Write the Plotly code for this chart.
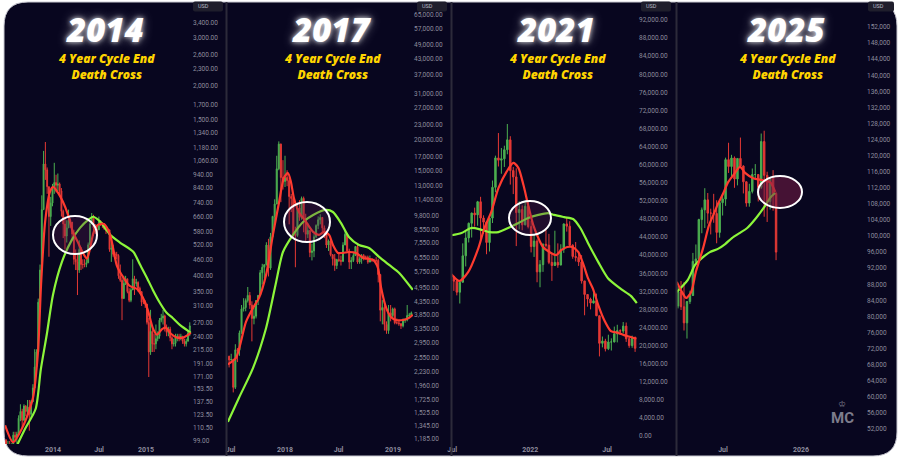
import plotly.graph_objects as go
import pandas as pd

W, H = 900, 460
BG = '#08061f'
GREEN_C = '#4caf50'
RED_C = '#e53935'
RED_MA = '#ff3b2f'
GREEN_MA = '#8cf53a'
TICK_C = '#8e8d9e'

# ---------------- Panel 1 : 2013-2015 (weekly) ----------------
p1_start = '2013-07-01'
p1_open0 = 100
p1_close = [92, 96, 95, 96, 104, 102, 105, 120, 127, 118, 133, 127, 132, 124, 138, 155, 185, 210,
            320, 420, 700, 1030, 980, 850, 660, 740, 840,
            880, 860, 870, 820, 690, 620, 560, 600, 640, 630, 570, 460, 450, 420, 500, 440, 440,
            440, 447, 520, 620, 660, 600, 590, 590, 630, 620, 620, 595, 590, 590, 500, 505, 480,
            480, 475, 400, 385, 330, 375, 390, 350, 325, 355, 390, 375, 378, 360, 350, 320, 320, 315,
            270, 210, 250, 225, 225, 235, 240, 275, 280, 285, 255, 248, 255, 237, 225, 226, 238,
            240, 237, 240, 230, 225, 230, 247, 262]
p1_high = [100, 99, 99, 97, 107, 107, 107, 123, 135, 130, 135, 134, 140, 140, 140, 160, 215, 215,
           330, 440, 790, 1150, 1240, 1000, 850, 780, 870,
           1040, 940, 950, 880, 840, 700, 660, 640, 700, 650, 620, 590, 500, 480, 540, 510, 460,
           460, 460, 530, 630, 680, 670, 620, 610, 660, 640, 630, 625, 600, 600, 590, 530, 520,
           490, 490, 480, 440, 395, 400, 400, 390, 360, 360, 460, 400, 390, 382, 365, 350, 335, 325,
           300, 280, 300, 260, 245, 265, 250, 280, 290, 300, 288, 265, 260, 260, 240, 235, 245,
           245, 245, 245, 240, 235, 235, 250, 270]
p1_low = [86, 85, 88, 88, 92, 98, 97, 104, 117, 110, 117, 122, 125, 108, 120, 138, 160, 185,
          210, 300, 420, 700, 900, 800, 470, 610, 720,
          800, 810, 820, 780, 660, 550, 500, 530, 600, 600, 540, 440, 420, 340, 410, 420, 425,
          430, 430, 445, 520, 620, 560, 570, 560, 590, 610, 600, 590, 570, 580, 490, 450, 470,
          470, 460, 390, 380, 275, 330, 370, 345, 320, 320, 360, 340, 365, 350, 345, 310, 315, 305,
          265, 170, 205, 210, 210, 215, 230, 235, 270, 265, 250, 240, 240, 230, 215, 220, 220,
          230, 230, 232, 225, 220, 220, 230, 240]
p1_red_dates = ['2013-06-27', '2013-07-28', '2013-09-05', '2013-10-14', '2013-11-03', '2013-11-15',
                '2013-12-01', '2013-12-20', '2014-01-01', '2014-01-21', '2014-02-09', '2014-03-01',
                '2014-03-20', '2014-04-08', '2014-04-28', '2014-05-14', '2014-05-25', '2014-06-10',
                '2014-06-26', '2014-07-20', '2014-08-13', '2014-09-09', '2014-10-03', '2014-10-30',
                '2014-11-27', '2014-12-20', '2015-01-08', '2015-01-28', '2015-02-13', '2015-03-05',
                '2015-03-20', '2015-04-09', '2015-05-03', '2015-05-26', '2015-06-26']
p1_red_vals = [113, 98, 112, 142, 210, 370, 631, 814, 849, 807, 748, 670, 580, 533, 486, 462, 498,
               580, 615, 620, 566, 435, 396, 367, 358, 332, 300, 257, 243, 255, 258, 245, 237, 237, 247]
p1_green_dates = ['2013-08-14', '2013-09-14', '2013-10-25', '2013-11-14', '2013-12-08', '2014-01-01',
                  '2014-02-05', '2014-03-16', '2014-04-17', '2014-05-19', '2014-06-08', '2014-07-06',
                  '2014-08-13', '2014-09-22', '2014-11-12', '2014-12-09', '2015-01-05', '2015-01-28',
                  '2015-02-25', '2015-03-24', '2015-04-16', '2015-05-14', '2015-06-26']
p1_green_vals = [96, 110, 130, 181, 245, 341, 450, 542, 600, 642, 659, 631, 566, 529, 490, 439, 393,
                 355, 318, 292, 280, 264, 247]
p1_yticks = [3400, 3000, 2600, 2300, 2000, 1700, 1500, 1340, 1180, 1060, 940, 840, 740, 660, 580,
             520, 460, 400, 350, 310, 270, 240, 215, 191, 171, 153.5, 137.5, 123.5, 110.5, 99]
p1_xticks = ['2014-01-01', '2014-07-01', '2015-01-01']
p1_xtext = ['2014', 'Jul', '2015']

# ---------------- Panel 2 : 2017-2019 ----------------
p2_start = '2017-06-26'
p2_open0 = 2590
p2_close = [2500, 2510, 1930, 2750, 2740, 3230, 4050, 4100, 4380, 4600, 4200, 3700, 3780, 4380,
            4600, 5700, 6000, 6150, 7400, 5950, 8000, 9700, 10900, 15200, 19200, 14000, 13500,
            14000, 13600, 11700, 11500, 8200, 8100, 10500, 9600, 11500, 9500, 8200, 8500, 6900,
            7000, 8000, 8900, 9400, 9600, 8700, 8250, 7400, 7700, 6750, 6500, 6100, 6450,
            6400, 6350, 7400, 8200, 7000, 6300, 6400, 6700, 7300, 6300, 6500, 6700, 6600,
            6600, 6300, 6500, 6400, 6400, 6400, 5600, 4000, 4100, 3500, 3300, 3900, 3800, 4050,
            3550, 3550, 3520, 3450, 3650, 3650, 3800, 3820, 3900]
p2_high = [2600, 2650, 2530, 2900, 2800, 3300, 4200, 4480, 4470, 4980, 4750, 4350, 4100, 4400,
           4620, 5850, 6200, 6150, 7600, 7850, 8300, 9750, 11400, 17200, 19700, 19300, 16500,
           17200, 15000, 14000, 12000, 11700, 8800, 11000, 11300, 11700, 11700, 9950, 9100, 8500,
           7500, 8200, 9000, 9700, 9900, 9650, 8900, 8400, 7800, 7800, 6800, 6800, 6500,
           6800, 6700, 7600, 8500, 8300, 7150, 6600, 6900, 7300, 7400, 6600, 6800, 6800,
           6700, 6700, 6700, 6500, 6500, 6600, 6500, 5600, 4400, 4200, 3600, 4200, 4200, 4100,
           4100, 3700, 3650, 3550, 3700, 3700, 4200, 3900, 3950]
p2_low = [2330, 2480, 1840, 1900, 2450, 2600, 3200, 3950, 3960, 4300, 4050, 2980, 3500, 3700,
          4200, 4600, 5100, 5400, 6100, 5500, 5850, 7900, 9000, 10900, 15000, 11100, 12500,
          12800, 12900, 9000, 10100, 7900, 6000, 8000, 9300, 9400, 8350, 7700, 7900, 6600,
          6400, 6600, 7900, 8600, 9000, 8300, 7900, 7200, 7000, 6650, 6100, 5800, 5900,
          6300, 6100, 6300, 7400, 6900, 5900, 5900, 6300, 6700, 6200, 6200, 6200, 6400,
          6450, 6200, 6400, 6300, 6300, 6300, 5200, 3600, 3500, 3300, 3200, 3200, 3600, 3700,
          3500, 3500, 3450, 3350, 3400, 3550, 3600, 3700, 3750]
p2_red_dates = ['2017-06-22', '2017-07-19', '2017-08-22', '2017-09-15', '2017-10-05', '2017-10-29',
                '2017-11-21', '2017-12-12', '2017-12-28', '2018-01-11', '2018-01-21', '2018-01-31',
                '2018-02-17', '2018-03-13', '2018-04-06', '2018-04-26', '2018-05-13', '2018-05-30',
                '2018-06-12', '2018-06-29', '2018-07-16', '2018-08-05', '2018-08-29', '2018-09-22',
                '2018-10-26', '2018-11-11', '2018-11-22', '2018-12-09', '2018-12-25', '2019-01-11',
                '2019-02-04', '2019-02-24', '2019-03-09']
p2_red_vals = [2400, 2548, 3580, 4089, 4492, 5586, 8145, 11114, 13950, 14620, 13430, 11540, 10110,
               9200, 8378, 8145, 8378, 8145, 7410, 6870, 6870, 6930, 6870, 6552, 6430, 5963, 4934,
               4089, 3753, 3646, 3646, 3720, 3830]
p2_green_dates = ['2017-06-22', '2017-07-29', '2017-09-15', '2017-10-29', '2017-12-02', '2017-12-25',
                  '2018-01-28', '2018-03-03', '2018-04-06', '2018-05-20', '2018-06-12', '2018-07-09',
                  '2018-08-05', '2018-09-08', '2018-10-12', '2018-11-15', '2018-12-19', '2019-01-22',
                  '2019-03-09']
p2_green_vals = [1393, 1746, 2320, 3382, 5224, 6930, 8145, 9200, 9836, 10308, 10110, 9120, 7988,
                 7410, 7200, 6617, 6131, 5686, 4843]
p2_yticks = [65000, 57000, 49000, 43000, 37000, 31000, 27000, 23000, 20000, 17000, 15000, 13000,
             11400, 9800, 8550, 7550, 6550, 5750, 4950, 4350, 3850, 3350, 2950, 2550, 2230, 1960,
             1725, 1525, 1345, 1185]
p2_xticks = ['2017-07-01', '2018-01-01', '2018-07-01', '2019-01-01']
p2_xtext = ['Jul', '2018', 'Jul', '2019']

# ---------------- Panel 3 : 2021-2022 ----------------
p3_start = '2021-07-05'
p3_open0 = 35300
p3_close = [34250, 31800, 34000, 39850, 43800, 47050, 49300, 48900, 51800, 48200, 47300, 42800,
            48200, 55000, 61500, 61000, 61300, 63300, 65500, 58700, 57300, 49400, 50100, 46700,
            50800, 46300,
            41900, 43100, 36300, 37900, 42400, 42200, 38400, 37700, 38400, 37800, 41300, 46900,
            46400, 42200, 39700, 39500, 38500, 34300, 31300, 30300, 29400, 29900, 26600, 20500,
            21000, 19300, 20800, 20800, 22600, 23300, 23200, 24300, 21500, 20000, 21800, 19400]
p3_high = [35400, 34600, 34500, 42600, 45300, 47200, 49400, 50500, 52000, 52900, 48800, 47500,
           48400, 56500, 62000, 67000, 63700, 64200, 69000, 66300, 59500, 59200, 51900, 51000,
           52000, 52100,
           47600, 44400, 43500, 38900, 42600, 45800, 44700, 40300, 45400, 42600, 42400, 47000,
           48200, 47500, 42400, 42900, 40800, 40000, 34300, 31400, 30600, 32300, 31500, 26600,
           22000, 21500, 22400, 21600, 24200, 24600, 23600, 25200, 25100, 22000, 22200, 22000]
p3_low = [32100, 31100, 29300, 34000, 37500, 42800, 43900, 46300, 46500, 42800, 44700, 40200,
          40800, 47100, 53900, 59600, 58000, 59500, 62300, 55600, 53500, 42000, 45700, 45500,
          46600, 45900,
          40600, 39600, 34000, 32900, 36300, 41700, 38000, 34300, 37600, 37200, 38200, 40500,
          45200, 42000, 39200, 38600, 37600, 33700, 26700, 28600, 28000, 29300, 26500, 17600,
          19600, 18700, 19000, 18900, 20700, 20700, 22400, 22700, 20800, 19500, 19500, 18600]
p3_red_dates = ['2021-06-29', '2021-07-18', '2021-08-08', '2021-09-01', '2021-09-15', '2021-10-01',
                '2021-10-18', '2021-11-06', '2021-11-22', '2021-12-04', '2021-12-16', '2021-12-27',
                '2022-01-08', '2022-01-20', '2022-01-31', '2022-02-15', '2022-03-03', '2022-03-15',
                '2022-03-29', '2022-04-10', '2022-04-24', '2022-05-06', '2022-05-17', '2022-05-29',
                '2022-06-10', '2022-06-24', '2022-07-10', '2022-07-27', '2022-08-10', '2022-08-26',
                '2022-09-08']
p3_red_vals = [35800, 34300, 36300, 41600, 46000, 49500, 54800, 58400, 60400, 59300, 55500, 51100,
               46700, 43800, 41800, 40700, 40000, 41100, 41800, 41800, 40700, 38000, 34900, 32500,
               29000, 25700, 23200, 22800, 22300, 21900, 21500]
p3_green_dates = ['2021-06-29', '2021-07-23', '2021-08-15', '2021-09-08', '2021-09-27', '2021-10-18',
                  '2021-11-10', '2021-12-04', '2021-12-27', '2022-01-20', '2022-02-12', '2022-02-26',
                  '2022-03-22', '2022-04-12', '2022-04-29', '2022-05-17', '2022-06-10', '2022-07-03',
                  '2022-08-03', '2022-08-26', '2022-09-09']
p3_green_vals = [44400, 44900, 46000, 45600, 45100, 45100, 46000, 47100, 48200, 48900, 49300, 48900,
                 48400, 48000, 46000, 42700, 38500, 34900, 32500, 31000, 29400]
p3_yticks = list(range(0, 92001, 4000))
p3_xticks = ['2021-07-01', '2022-01-01', '2022-07-01']
p3_xtext = ['Jul', '2022', 'Jul']

# ---------------- Panel 4 : 2025 ----------------
p4_start = '2025-03-17'
p4_open0 = 82600
p4_close = [86100, 82400, 78400, 83700, 85200, 93700, 94300, 104100, 106500, 109000, 105700,
            105700, 105600, 100900, 108300, 109200, 119000, 117300, 119400, 114200, 119300,
            117400, 113500, 108200, 111100, 115300, 115300, 112100, 123500, 115100, 108600,
            114500, 110600, 96000]
p4_high = [87500, 88800, 88500, 83500, 86400, 95800, 97900, 104300, 107100, 111900, 110700,
           106800, 110500, 108900, 108500, 110500, 119500, 123200, 120200, 119800, 119300,
           124500, 117600, 113600, 113000, 116800, 117900, 115400, 125500, 126200, 116000,
           114000, 116400, 111000]
p4_low = [82000, 81600, 76500, 74500, 83100, 85100, 92800, 93400, 100700, 102000, 103100,
          100400, 103300, 98200, 99600, 105100, 107500, 115700, 114700, 112000, 112600,
          117200, 110600, 107300, 107300, 110600, 114300, 108600, 111700, 104800, 103500,
          106600, 106300, 94000]
p4_red_dates = ['2025-03-14', '2025-03-26', '2025-04-05', '2025-04-17', '2025-04-28', '2025-05-15',
                '2025-05-29', '2025-06-10', '2025-06-19', '2025-07-01', '2025-07-13', '2025-07-27',
                '2025-08-10', '2025-08-22', '2025-09-10', '2025-10-01', '2025-10-20', '2025-11-01']
p4_red_vals = [88600, 86100, 84600, 86100, 91100, 97000, 102700, 105700, 108000, 110500, 113400,
               115400, 117200, 115700, 114400, 113900, 113400, 111000]
p4_green_dates = ['2025-03-14', '2025-04-09', '2025-04-26', '2025-05-12', '2025-05-31', '2025-06-19',
                  '2025-07-06', '2025-07-22', '2025-08-10', '2025-08-27', '2025-09-17', '2025-10-06',
                  '2025-10-20', '2025-11-01']
p4_green_vals = [86100, 89100, 92800, 94500, 96000, 96800, 98000, 99500, 100800, 102000, 104500,
                 107200, 109500, 110700]
p4_yticks = list(range(52000, 152001, 4000))
p4_xticks = ['2025-07-01', '2026-01-01']
p4_xtext = ['Jul', '2026']

titles = ['2014', '2017', '2021', '2025']
subtitle = '4 Year Cycle End<br>Death Cross'

# ---------------- layout geometry (pixels) ----------------
panels = [
    dict(start=p1_start, open0=p1_open0, close=p1_close, high=p1_high, low=p1_low,
         rd=p1_red_dates, rv=p1_red_vals, gd=p1_green_dates, gv=p1_green_vals,
         yt=p1_yticks, ytext=[f'{v:,.2f}' for v in p1_yticks], xt=p1_xticks, xtext=p1_xtext,
         px=(5, 192), xr=['2013-06-26 12:00', '2015-06-30 17:00'], ytype='log',
         yr=[1.9845, 3.6075], cx=105, circ=(75, 235, 22, 19), usd=(193, 223)),
    dict(start=p2_start, open0=p2_open0, close=p2_close, high=p2_high, low=p2_low,
         rd=p2_red_dates, rv=p2_red_vals, gd=p2_green_dates, gv=p2_green_vals,
         yt=p2_yticks, ytext=[f'{v:,.2f}' for v in p2_yticks], xt=p2_xticks, xtext=p2_xtext,
         px=(228, 413), xr=['2017-06-22 05:00', '2019-03-09 15:00'], ytype='log',
         yr=[3.0532, 4.8662], cx=331, circ=(307, 222, 23, 20), usd=(417, 447)),
    dict(start=p3_start, open0=p3_open0, close=p3_close, high=p3_high, low=p3_low,
         rd=p3_red_dates, rv=p3_red_vals, gd=p3_green_dates, gv=p3_green_vals,
         yt=p3_yticks, ytext=[f'{v:,.2f}' for v in p3_yticks], xt=p3_xticks, xtext=p3_xtext,
         px=(451, 638), xr=['2021-06-28 07:00', '2022-09-11 20:00'], ytype='linear',
         yr=[-1769, 95981], cx=556, circ=(530, 218, 21, 17), usd=(641, 671)),
    dict(start=p4_start, open0=p4_open0, close=p4_close, high=p4_high, low=p4_low,
         rd=p4_red_dates, rv=p4_red_vals, gd=p4_green_dates, gv=p4_green_vals,
         yt=p4_yticks, ytext=[f'{v:,}' for v in p4_yticks], xt=p4_xticks, xtext=p4_xtext,
         px=(677, 866), xr=['2025-03-14 12:00', '2026-06-03 00:00'], ytype='linear',
         yr=[48269, 158219], cx=786, circ=(780, 192, 22, 16), usd=(868, 894)),
]


def X(x):
    return x / W


def Y(y):
    return 1 - y / H


def rrect(x0, y0, x1, y1, r):
    return (f"M {X(x0 + r)},{Y(y0)} L {X(x1 - r)},{Y(y0)} Q {X(x1)},{Y(y0)} {X(x1)},{Y(y0 + r)} "
            f"L {X(x1)},{Y(y1 - r)} Q {X(x1)},{Y(y1)} {X(x1 - r)},{Y(y1)} "
            f"L {X(x0 + r)},{Y(y1)} Q {X(x0)},{Y(y1)} {X(x0)},{Y(y1 - r)} "
            f"L {X(x0)},{Y(y0 + r)} Q {X(x0)},{Y(y0)} {X(x0 + r)},{Y(y0)} Z")


fig = go.Figure()
shapes = [dict(type='path', xref='paper', yref='paper', path=rrect(4, 2, 897, 456, 24),
               fillcolor=BG, line=dict(color='#c9c9d2', width=1), layer='below')]
annotations = []
ydom = [(H - 444) / H, (H - 2) / H]

for i, p in enumerate(panels):
    n = '' if i == 0 else str(i + 1)
    xa, ya = 'x' + n, 'y' + n
    dates = pd.date_range(p['start'], periods=len(p['close']), freq='7D')
    opens = [p['open0']] + p['close'][:-1]
    fig.add_trace(go.Candlestick(
        x=dates, open=opens, high=p['high'], low=p['low'], close=p['close'],
        xaxis=xa, yaxis=ya, whiskerwidth=0, showlegend=False, hoverinfo='skip',
        increasing=dict(line=dict(color=GREEN_C, width=1), fillcolor=GREEN_C),
        decreasing=dict(line=dict(color=RED_C, width=1), fillcolor=RED_C)))
    fig.add_trace(go.Scatter(x=p['gd'], y=p['gv'], mode='lines', xaxis=xa, yaxis=ya,
                             line=dict(color=GREEN_MA, width=2.2, shape='spline', smoothing=0.7),
                             showlegend=False, hoverinfo='skip'))
    fig.add_trace(go.Scatter(x=p['rd'], y=p['rv'], mode='lines', xaxis=xa, yaxis=ya,
                             line=dict(color=RED_MA, width=2.2, shape='spline', smoothing=0.7),
                             showlegend=False, hoverinfo='skip'))
    fig.layout['xaxis' + n] = dict(
        domain=[X(p['px'][0]), X(p['px'][1])], range=p['xr'], type='date', anchor=ya,
        tickvals=p['xt'], ticktext=p['xtext'], showgrid=False, zeroline=False, showline=False,
        ticks='', tickfont=dict(family='Roboto', size=7, color=TICK_C, weight='bold'),
        rangeslider=dict(visible=False), fixedrange=True, automargin=False)
    fig.layout['yaxis' + n] = dict(
        domain=ydom, range=p['yr'], type=p['ytype'], anchor=xa, side='right',
        tickvals=p['yt'], ticktext=p['ytext'], showgrid=False, zeroline=False, showline=False,
        ticks='', tickfont=dict(family='Roboto', size=6.5, color=TICK_C),
        fixedrange=True, automargin=False)
    # circle highlighting the cross
    cx, cy, rx, ry = p['circ']
    fill = 'rgba(120,30,70,0.55)' if i == 3 else 'rgba(90,30,80,0.30)'
    shapes.append(dict(type='circle', xref='paper', yref='paper', x0=X(cx - rx), x1=X(cx + rx),
                       y0=Y(cy + ry), y1=Y(cy - ry), line=dict(color='white', width=2),
                       fillcolor=fill, layer='above'))
    # USD box
    u0, u1 = p['usd']
    shapes.append(dict(type='path', xref='paper', yref='paper', path=rrect(u0, 1.5, u1, 11.5, 2),
                       fillcolor='#1f1e2c', line=dict(width=0), layer='above'))
    annotations.append(dict(text='USD', x=X(u0 + 3), y=Y(6.5), xref='paper', yref='paper',
                            xanchor='left', yanchor='middle', showarrow=False,
                            font=dict(family='Roboto', size=5.5, color='#b8b8c4')))
    # titles
    annotations.append(dict(text=titles[i], x=X(p['cx']), y=Y(29.5), xref='paper', yref='paper',
                            xanchor='center', yanchor='middle', showarrow=False,
                            font=dict(family='Open Sans', size=33, color='white', weight=800,
                                      style='italic',
                                      shadow='0 0 5px rgba(255,255,255,0.85), 0 0 12px rgba(255,255,255,0.45)')))
    annotations.append(dict(text=subtitle, x=X(p['cx'] + 1), y=Y(67), xref='paper', yref='paper',
                            xanchor='center', yanchor='middle', showarrow=False, align='center',
                            font=dict(family='Open Sans', size=12, color='#ffd400', weight=800,
                                      style='italic')))

# panel separators
for sx in [226.5, 451.5, 676.5]:
    shapes.append(dict(type='line', xref='paper', yref='paper', x0=X(sx), x1=X(sx),
                       y0=Y(456), y1=Y(2), line=dict(color='#2c2a3a', width=2), layer='above'))

# watermark
annotations.append(dict(text='MC', x=X(842), y=Y(418), xref='paper', yref='paper',
                        xanchor='center', yanchor='middle', showarrow=False,
                        font=dict(family='Roboto', size=15, color='#7d7c8c', weight='bold')))
annotations.append(dict(text='♔', x=X(842), y=Y(404), xref='paper', yref='paper',
                        xanchor='center', yanchor='middle', showarrow=False,
                        font=dict(family='DejaVu Sans', size=9, color='#7d7c8c')))

fig.update_layout(width=W, height=H, margin=dict(l=0, r=0, t=0, b=0, pad=0),
                  paper_bgcolor='white', plot_bgcolor='rgba(0,0,0,0)', showlegend=False,
                  shapes=shapes, annotations=annotations, hovermode=False)

fig.write_html('out.html', config={'displayModeBar': False, 'staticPlot': True},
               post_script="document.body.style.margin='0';")
